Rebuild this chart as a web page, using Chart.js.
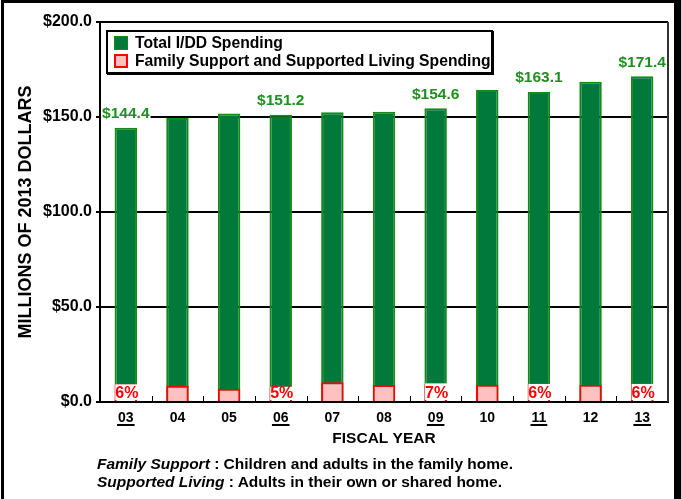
<!DOCTYPE html>
<html>
<head>
<meta charset="utf-8">
<script src="https://cdn.jsdelivr.net/npm/chart.js@4.4.1/dist/chart.umd.min.js"></script>
<style>
  body { margin: 0; background: #fff; font-family: 'Liberation Sans', Arial, sans-serif; }
  #wrap { position: relative; width: 681px; height: 499px; overflow: hidden; }
  #frame { position: absolute; left: 1px; top: 0; width: 680px; height: 540px; box-sizing: border-box;
           border-left: 3px solid #000; border-top: 3px solid #000; border-right: 7px solid #000; }
  #legend { position: absolute; left: 106px; top: 30px; width: 387px; height: 44px; box-sizing: border-box;
            border: 2px solid #000; box-shadow: 1px 1px 0 #000; background: #fff;
            font-weight: bold; font-size: 15.7px; color: #000; }
  .item { position: absolute; left: 6px; height: 18px; line-height: 18px; white-space: nowrap; }
  .sw { display: inline-block; width: 14px; height: 14px; box-sizing: border-box; vertical-align: -2px; margin-right: 7px; }
  #note { position: absolute; left: 97px; top: 455px; font-size: 15.5px; font-weight: bold; line-height: 18px; color: #000; white-space: nowrap; }
</style>
</head>
<body>
<div id="wrap">
  <canvas id="chart" width="681" height="499"></canvas>
  <div id="frame"></div>
  <div id="legend">
    <div class="item" style="top:2px"><span class="sw" style="background:#00793a;border:1px solid #168a16"></span>Total I/DD Spending</div>
    <div class="item" style="top:20px"><span class="sw" style="background:#ffc0c0;border:2px solid #ff0000"></span>Family Support and Supported Living Spending</div>
  </div>
  <div id="note">
    <div><i>Family Support</i> : Children and adults in the family home.</div>
    <div><i>Supported Living</i> : Adults in their own or shared home.</div>
  </div>
</div>
<script>
// fiscal years and spending (millions of 2013 dollars)
const years = ['03', '04', '05', '06', '07', '08', '09', '10', '11', '12', '13'];
const totalSpending = [144.4, 149.5, 151.9, 151.2, 152.5, 152.8, 154.6, 164.2, 163.1, 168.6, 171.4];
const familySupport = [9.3, 8.6, 7.0, 8.0, 10.4, 8.9, 9.8, 9.1, 9.5, 9.1, 9.5];
const totalLabels = ['$144.4', '', '', '$151.2', '', '', '$154.6', '', '$163.1', '', '$171.4'];
const shareLabels = ['6%', '', '', '5%', '', '', '7%', '', '6%', '', '6%'];
const underlinedYears = ['03', '06', '09', '11', '13'];
const yTicks = [0, 50, 100, 150, 200];

const decorations = {
  id: 'decorations',
  afterDatasetsDraw(chart) {
    const { ctx, chartArea, scales } = chart;
    const x = scales.x;
    const y = scales.y;
    ctx.save();

    // plot frame right edge
    ctx.strokeStyle = '#333';
    ctx.lineWidth = 2;
    ctx.beginPath();
    ctx.moveTo(chartArea.right, chartArea.top);
    ctx.lineTo(chartArea.right, chartArea.bottom);
    ctx.stroke();

    // small category tick marks pointing up
    ctx.strokeStyle = '#000';
    ctx.lineWidth = 1;
    for (let i = 0; i < years.length - 1; i++) {
      const bx = Math.round((x.getPixelForValue(i) + x.getPixelForValue(i + 1)) / 2) + 0.5;
      ctx.beginPath();
      ctx.moveTo(bx, chartArea.bottom - 6);
      ctx.lineTo(bx, chartArea.bottom);
      ctx.stroke();
    }

    // total labels above bars
    const totalMeta = chart.getDatasetMeta(1);
    ctx.font = 'bold 15.5px "Liberation Sans", Arial, sans-serif';
    ctx.textAlign = 'center';
    ctx.textBaseline = 'middle';
    totalLabels.forEach((t, i) => {
      if (!t) return;
      const bar = totalMeta.data[i];
      const ty = bar.y - 14;
      const w = ctx.measureText(t).width;
      ctx.fillStyle = '#fff';
      ctx.fillRect(bar.x - w / 2 - 1, ty - 8, w + 2, 16);
      ctx.fillStyle = '#1f8f1f';
      ctx.fillText(t, bar.x, ty);
    });

    // share labels inside the bottom boxes
    const shareMeta = chart.getDatasetMeta(0);
    const base = y.getPixelForValue(0);
    ctx.font = 'bold 16px "Liberation Sans", Arial, sans-serif';
    shareLabels.forEach((t, i) => {
      if (!t) return;
      const bar = shareMeta.data[i];
      const w = ctx.measureText(t).width;
      ctx.fillStyle = '#fff';
      ctx.fillRect(bar.x - w / 2 + 1, bar.y, w, base - bar.y - 2);
      ctx.fillStyle = '#ff0000';
      ctx.fillText(t, bar.x + 1, base - 8);
    });

    // underline selected years
    ctx.font = 'bold 14px "Liberation Sans", Arial, sans-serif';
    ctx.strokeStyle = '#000';
    ctx.lineWidth = 2;
    years.forEach((yr, i) => {
      if (!underlinedYears.includes(yr)) return;
      const cx = x.getPixelForValue(i);
      const w = ctx.measureText(yr).width;
      ctx.beginPath();
      ctx.moveTo(cx - w / 2 - 1, 425);
      ctx.lineTo(cx + w / 2 + 1, 425);
      ctx.stroke();
    });
    ctx.restore();
  },
};

new Chart(document.getElementById('chart'), {
  type: 'bar',
  data: {
    labels: years,
    datasets: [
      {
        label: 'Family Support and Supported Living Spending',
        data: familySupport,
        backgroundColor: shareLabels.map((s) => (s ? '#ffffff' : '#ffc0c0')),
        borderColor: '#ff0000',
        borderWidth: 2,
        grouped: false,
        order: 0,
        barPercentage: 0.87,
        categoryPercentage: 0.5,
      },
      {
        label: 'Total I/DD Spending',
        data: totalSpending,
        backgroundColor: '#00793a',
        borderColor: '#168a16',
        borderWidth: 2,
        grouped: false,
        order: 1,
        barPercentage: 0.87,
        categoryPercentage: 0.5,
      },
    ],
  },
  options: {
    responsive: false,
    animation: false,
    layout: { padding: { top: 22, right: 13, bottom: 47, left: 0 } },
    plugins: { legend: { display: false }, tooltip: { enabled: false } },
    scales: {
      x: {
        grid: { display: false, drawTicks: false },
        border: { display: true, color: '#000', width: 2 },
        ticks: { color: '#000', padding: 8, font: { family: 'Liberation Sans', size: 14, weight: 'bold' } },
        title: { display: true, text: 'FISCAL YEAR', color: '#000', padding: { top: 4, bottom: 4 },
                 font: { family: 'Liberation Sans', size: 15.5, weight: 'bold' } },
        afterFit: (scale) => { scale.height = 50; },
      },
      y: {
        min: 0,
        max: 200,
        afterBuildTicks: (scale) => { scale.ticks = yTicks.map((v) => ({ value: v })); },
        grid: { color: '#000', lineWidth: 2, tickLength: 4 },
        border: { display: true, color: '#000', width: 2 },
        ticks: { color: '#000', padding: 4, callback: (v) => '$' + Number(v).toFixed(1),
                 font: { family: 'Liberation Sans', size: 16, weight: 'bold' } },
        title: { display: true, text: 'MILLIONS OF 2013 DOLLARS', color: '#000', padding: { top: 15, bottom: 0 },
                 font: { family: 'Liberation Sans', size: 18, weight: 'bold' } },
        afterFit: (scale) => { scale.width = 100; },
      },
    },
  },
  plugins: [decorations],
});
</script>
</body>
</html>
